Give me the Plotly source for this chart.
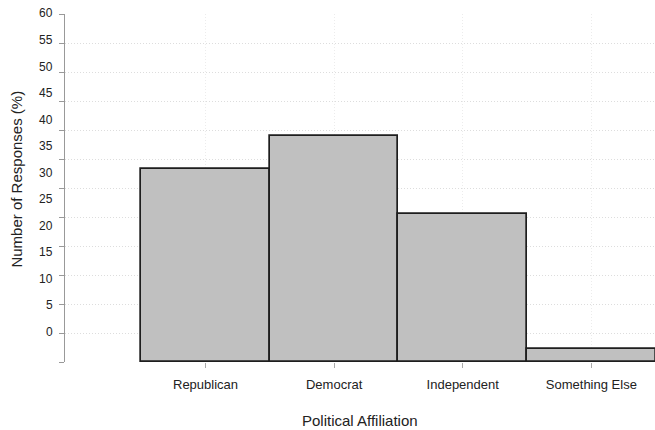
import plotly.graph_objects as go

categories = ["Republican", "Democrat", "Independent", "Something Else"]
values = [33.2, 39.0, 25.5, 2.3]
ytick_vals = [0, 5, 10, 15, 20, 25, 30, 35, 40, 45, 50, 55, 60]
ytick_labels = ["60", "55", "50", "45", "40", "35", "30", "25", "20", "15", "10", "5", "0"]

FONT = "Liberation Sans, Arial, Helvetica, sans-serif"
YMAX = 60

fig = go.Figure()
fig.add_trace(go.Bar(
    x=categories, y=values,
    marker=dict(color="#c0c0c0", line=dict(color="#1e1e1e", width=1.7)),
    width=1.0, hoverinfo="skip",
))

# y tick labels (drawn as text, offset from tick marks like in the original)
top_pos, bottom_pos = 60.1, 5.17
n = len(ytick_labels)
annotations = []
for i, lab in enumerate(ytick_labels):
    pos = top_pos - i * (top_pos - bottom_pos) / (n - 1)
    annotations.append(dict(
        text=lab, xref="paper", yref="paper", x=0, y=pos / YMAX,
        xanchor="right", yanchor="middle", xshift=-10, showarrow=False,
        font=dict(family=FONT, size=12, color="#222222"),
    ))
annotations.append(dict(
    text="Political Affiliation", xref="paper", yref="paper", x=0.5, y=-0.1667,
    xanchor="center", yanchor="middle", showarrow=False,
    font=dict(family=FONT, size=15, color="#222222"),
))
annotations.append(dict(
    text="Number of Responses (%)", xref="paper", yref="paper", x=-0.0814, y=0.527,
    xanchor="center", yanchor="middle", textangle=-90, showarrow=False,
    font=dict(family=FONT, size=15, color="#222222"),
))

fig.update_layout(
    width=655, height=430,
    margin=dict(l=65, r=0, t=14, b=68),
    plot_bgcolor="white", paper_bgcolor="white",
    showlegend=False, bargap=0,
    annotations=annotations,
    font=dict(family=FONT, color="#222222"),
    xaxis=dict(
        type="category", range=[-1.0926, 3.495],
        showgrid=True, gridcolor="#ececec", griddash="1px,2px", gridwidth=1,
        ticks="outside", ticklen=5, tickcolor="#aaaaaa",
        showline=False, zeroline=False, ticklabelstandoff=5,
        tickfont=dict(family=FONT, size=13, color="#222222"),
    ),
    yaxis=dict(
        range=[0, YMAX], tickvals=ytick_vals, showticklabels=False,
        showgrid=True, gridcolor="#dddddd", griddash="1px,2px", gridwidth=1,
        ticks="outside", ticklen=5, tickcolor="#999999",
        showline=True, linecolor="#999999", linewidth=1,
        zeroline=False,
    ),
)

fig.write_html(
    "out.html",
    config={"displayModeBar": False},
    post_script="document.body.style.margin='0';document.body.style.overflow='hidden';",
)
